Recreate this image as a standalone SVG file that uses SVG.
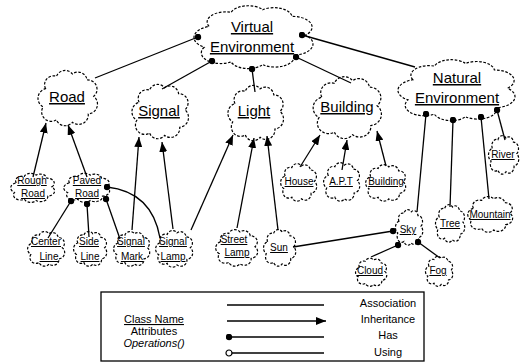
<svg xmlns="http://www.w3.org/2000/svg" width="526" height="364" viewBox="0 0 526 364">
<style>
.cl{fill:#fff;stroke:#000;stroke-width:1.2;stroke-dasharray:2.6 1.6;vector-effect:non-scaling-stroke}
text{font-family:"Liberation Sans",Arial,sans-serif;fill:#000;text-anchor:middle}
.lg{font-size:15px;text-decoration:underline}
.sm{font-size:10px;text-decoration:underline}
.lt{font-size:11px}
.ln{fill:none;stroke:#000;stroke-width:1.3}
.has{marker-start:url(#dot)}
.inh{marker-end:url(#arrow)}
</style>
<defs>
<symbol id="cloud" viewBox="0 0 100 100" preserveAspectRatio="none" overflow="visible">
<path class="cl" d="M14,35 A15,15 0 0 1 32,14 A15,15 0 0 1 58,10 A15,15 0 0 1 82,20 A16,16 0 0 1 93,48 A17,17 0 0 1 84,78 A16,16 0 0 1 58,92 A15,15 0 0 1 32,88 A16,16 0 0 1 10,66 A17,17 0 0 1 14,35 Z"/>
</symbol>
<marker id="arrow" viewBox="0 0 10 8" refX="10" refY="4" markerWidth="10" markerHeight="8" markerUnits="userSpaceOnUse" orient="auto"><path d="M0,0 L10,4 L0,8 Z" fill="#000"/></marker>
<marker id="dot" viewBox="0 0 7 7" refX="3.5" refY="3.5" markerWidth="7" markerHeight="7" markerUnits="userSpaceOnUse"><circle cx="3.5" cy="3.5" r="3.2" fill="#000"/></marker>
<marker id="odot" viewBox="0 0 8 8" refX="4" refY="4" markerWidth="8" markerHeight="8" markerUnits="userSpaceOnUse"><circle cx="4" cy="4" r="3" fill="#fff" stroke="#000" stroke-width="1.2"/></marker>
</defs>

<g id="virtual-environment"><use href="#cloud" x="192" y="3" width="122" height="67"/><text class="lg" x="252" y="32">Virtual</text><text class="lg" x="252" y="52">Environment</text></g>
<g id="road"><use href="#cloud" x="37" y="68" width="61" height="59"/><text class="lg" x="67" y="102">Road</text></g>
<g id="signal"><use href="#cloud" x="131" y="82" width="58" height="58"/><text class="lg" x="159" y="116">Signal</text></g>
<g id="light"><use href="#cloud" x="227" y="83" width="57" height="59"/><text class="lg" x="254" y="116">Light</text></g>
<g id="building"><use href="#cloud" x="312" y="74" width="70" height="66"/><text class="lg" x="347" y="112">Building</text></g>
<g id="natural-environment"><use href="#cloud" x="396" y="57" width="120" height="65"/><text class="lg" x="457" y="83">Natural</text><text class="lg" x="457" y="103">Environment</text></g>

<g id="rough-road"><use href="#cloud" x="10" y="172" width="45" height="31"/><text class="sm" x="32" y="184">Rough</text><text class="sm" x="33" y="197">Road</text></g>
<g id="paved-road"><use href="#cloud" x="63" y="172" width="47" height="31"/><text class="sm" x="87" y="184">Paved</text><text class="sm" x="87" y="197">Road</text></g>
<g id="center-line"><use href="#cloud" x="27" y="230" width="38" height="37"/><text class="sm" x="46" y="245">Center</text><text class="sm" x="49" y="260">Line</text></g>
<g id="side-line"><use href="#cloud" x="73" y="230" width="34" height="37"/><text class="sm" x="89" y="245">Side</text><text class="sm" x="90" y="260">Line</text></g>
<g id="signal-mark"><use href="#cloud" x="113" y="230" width="37" height="37"/><text class="sm" x="131" y="245">Signal</text><text class="sm" x="132" y="260">Mark</text></g>
<g id="signal-lamp"><use href="#cloud" x="155" y="229" width="38" height="39"/><text class="sm" x="173" y="245">Signal</text><text class="sm" x="173" y="260">Lamp</text></g>
<g id="street-lamp"><use href="#cloud" x="215" y="228" width="43" height="39"/><text class="sm" x="234" y="243">Street</text><text class="sm" x="237" y="256">Lamp</text></g>
<g id="sun"><use href="#cloud" x="263" y="228" width="33" height="39"/><text class="sm" x="279" y="251">Sun</text></g>
<g id="house"><use href="#cloud" x="280" y="162" width="37" height="40"/><text class="sm" x="299" y="185">House</text></g>
<g id="apt"><use href="#cloud" x="323" y="161" width="37" height="41"/><text class="sm" x="341" y="185">A.P.T</text></g>
<g id="building-small"><use href="#cloud" x="365" y="163" width="41" height="39"/><text class="sm" x="386" y="185">Building</text></g>
<g id="river"><use href="#cloud" x="488" y="134" width="31" height="41"/><text class="sm" x="503" y="158">River</text></g>
<g id="sky"><use href="#cloud" x="395" y="208" width="28" height="38"/><text class="sm" x="408" y="233">Sky</text></g>
<g id="tree"><use href="#cloud" x="435" y="203" width="30" height="40"/><text class="sm" x="450" y="227">Tree</text></g>
<g id="mountain"><use href="#cloud" x="467" y="195" width="46" height="38"/><text class="sm" x="490" y="218">Mountain</text></g>
<g id="cloud-node"><use href="#cloud" x="355" y="257" width="32" height="30"/><text class="sm" x="370" y="274">Cloud</text></g>
<g id="fog"><use href="#cloud" x="425" y="255" width="28" height="32"/><text class="sm" x="438" y="274">Fog</text></g>

<g id="connectors">
<path class="ln has" d="M198,37 L95,78"/>
<path class="ln has" d="M212,61 L162,89"/>
<path class="ln has" d="M252,69 L255,92"/>
<path class="ln has" d="M296,57 L351,83"/>
<path class="ln has" d="M302,35 L415,67"/>
<path class="ln has" d="M71,201 L48,238"/>
<path class="ln has" d="M87,204 L89,237"/>
<path class="ln has" d="M106,199 L120,239"/>
<path class="ln has" d="M107,187 Q152,192 160,238"/>
<path class="ln has" d="M426,114 L417,212"/>
<path class="ln has" d="M453,120 L450,207"/>
<path class="ln has" d="M481,117 L489,199"/>
<path class="ln has" d="M497,110 L505,140"/>
<path class="ln has" d="M393,231 L293,247"/>
<path class="ln has" d="M398,245 L371,257"/>
<path class="ln has" d="M418,242 L440,258"/>
<path class="ln inh" d="M33,177 L46,123"/>
<path class="ln inh" d="M87,177 L68,125"/>
<path class="ln inh" d="M132,230 L139,137"/>
<path class="ln inh" d="M173,229 L162,142"/>
<path class="ln inh" d="M191,230 L233,135"/>
<path class="ln inh" d="M237,228 L254,138"/>
<path class="ln inh" d="M278,230 L267,136"/>
<path class="ln inh" d="M300,167 L320,135"/>
<path class="ln inh" d="M342,170 L347,140"/>
<path class="ln inh" d="M386,166 L377,131"/>
</g>

<g id="legend">
<rect x="101" y="292" width="323" height="69" fill="none" stroke="#000" stroke-width="1.3"/>
<text class="lt" x="154" y="323" text-decoration="underline">Class Name</text>
<text class="lt" x="154" y="335">Attributes</text>
<text class="lt" x="154" y="347" font-style="italic">Operations()</text>
<path class="ln" d="M227,305 L324,305"/>
<path class="ln inh" d="M227,321 L326,321"/>
<path class="ln has" d="M229,337 L324,337"/>
<path class="ln" d="M229,353 L324,353" marker-start="url(#odot)"/>
<text class="lt" x="388" y="307">Association</text>
<text class="lt" x="388" y="323">Inheritance</text>
<text class="lt" x="388" y="339">Has</text>
<text class="lt" x="388" y="356">Using</text>
</g>
</svg>
